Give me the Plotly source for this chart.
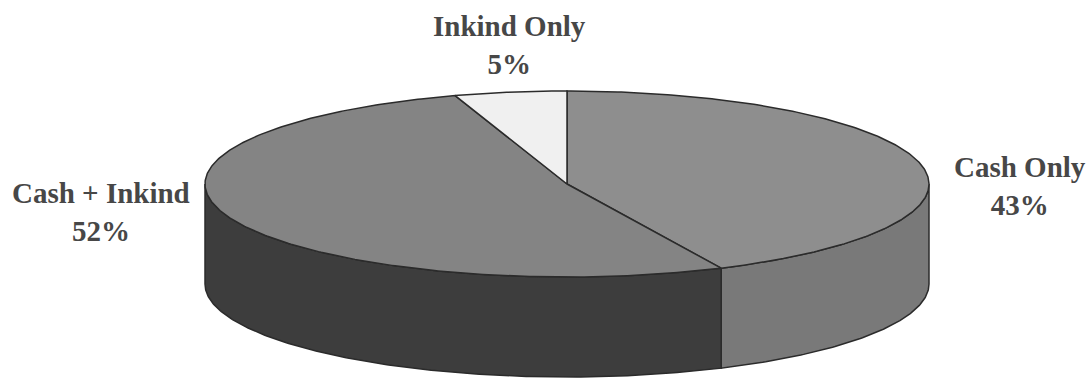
import numpy as np
import plotly.graph_objects as go

categories = ["Cash Only", "Cash + Inkind", "Inkind Only"]
shares = [43, 52, 5]
top_colors = ["#8e8e8e", "#848484", "#f0f0f0"]
side_colors = ["#797979", "#3d3d3d", "#f0f0f0"]
label_positions = [(1020, 186), (101, 212), (509, 45)]

# Pie geometry on a canvas-sized coordinate system
CX, CY = 567, 184
RX, RY = 362, 93
DEPTH = 100
EDGE = "#2b2b2b"


def rim(theta):
    """Point on the top ellipse, theta in radians clockwise from 12 o'clock."""
    return CX + RX * np.sin(theta), CY - RY * np.cos(theta)


def arc(start, end):
    count = max(int(abs(end - start) / 0.01), 2)
    return np.linspace(start, end, count)


fig = go.Figure()


def polygon(xs, ys, fill):
    fig.add_trace(go.Scatter(
        x=xs, y=ys, mode="lines", fill="toself", fillcolor=fill,
        line=dict(color=EDGE, width=1.5), hoverinfo="skip", showlegend=False,
    ))


edges = 2 * np.pi * np.cumsum([0] + shares) / sum(shares)

# Outer wall: only the part of each slice on the front half is visible
for i in range(len(shares)):
    start = max(edges[i], np.pi / 2)
    end = min(edges[i + 1], 3 * np.pi / 2)
    if start >= end:
        continue
    x, y = rim(arc(start, end))
    polygon(np.r_[x, x[::-1], x[0]], np.r_[y, y[::-1] + DEPTH, y[0]], side_colors[i])

# Top face
for i in range(len(shares)):
    x, y = rim(arc(edges[i], edges[i + 1]))
    polygon(np.r_[CX, x, CX], np.r_[CY, y, CY], top_colors[i])

# Two-line labels with the share under the category name
for name, share, (lx, ly) in zip(categories, shares, label_positions):
    fig.add_annotation(
        x=lx, y=ly, text=f"<b>{name}</b><br><b>{share}%</b>", showarrow=False,
        font=dict(family="Liberation Serif", size=29, color="#474747"),
        align="center",
    )

fig.update_layout(
    width=1091, height=378, margin=dict(l=0, r=0, t=0, b=0),
    paper_bgcolor="white", plot_bgcolor="white", showlegend=False,
    font=dict(family="Liberation Serif"),
    xaxis=dict(range=[0, 1091], visible=False, fixedrange=True),
    yaxis=dict(range=[378, 0], visible=False, fixedrange=True),
)
fig.write_html("out.html", config=dict(displayModeBar=False))
